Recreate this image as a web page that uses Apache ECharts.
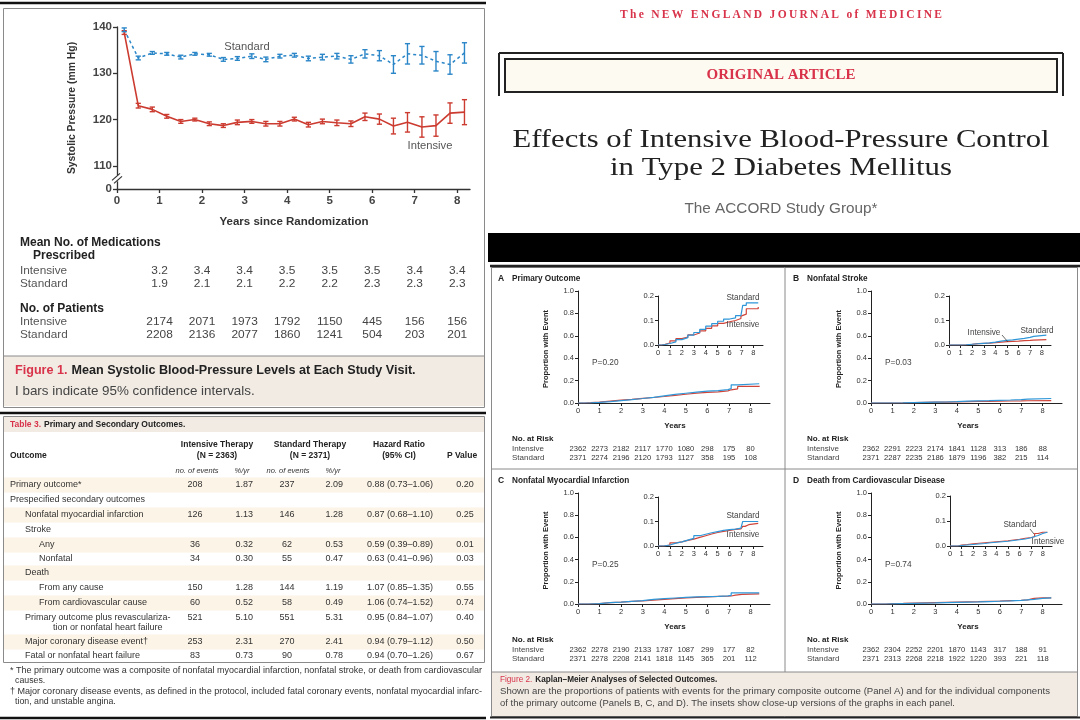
<!DOCTYPE html>
<html><head><meta charset="utf-8">
<script src="https://cdn.jsdelivr.net/npm/echarts@6/dist/echarts.min.js"></script>
<style>html,body{margin:0;padding:0;background:#fff}#c{width:1080px;height:720px}</style>
</head><body><div id="c"></div><script>
// ---------- Figure 1 data ----------
const visitYears = [0.17,0.5,0.83,1.17,1.5,1.83,2.17,2.5,2.83,3.17,3.5,3.83,4.17,4.5,4.83,5.17,5.5,5.83,6.17,6.5,6.83,7.17,7.5,7.83,8.17];
const standardSBP = [139.4,133.3,134.4,134.2,133.5,134.2,134.0,133.0,133.2,133.7,133.0,133.7,133.9,133.2,133.5,133.7,133.0,134.2,133.8,131.9,134.2,133.9,132.6,131.9,134.4];
const standardCI = [0.4,0.4,0.3,0.3,0.4,0.3,0.3,0.4,0.4,0.5,0.5,0.4,0.4,0.5,0.6,0.6,0.8,0.9,1.1,1.9,2.2,1.9,2.1,2.1,2.2];
const intensiveSBP = [138.8,123.0,122.2,120.7,119.6,120.0,119.1,118.7,119.4,119.6,119.1,119.1,120.1,118.9,119.6,119.3,119.1,120.6,120.1,118.6,119.4,118.4,118.7,121.4,121.6];
const intensiveCI = [0.4,0.5,0.5,0.4,0.4,0.3,0.4,0.4,0.5,0.4,0.5,0.5,0.4,0.5,0.5,0.6,0.6,0.8,1.1,1.7,2.1,2.2,2.3,2.2,2.7];
const fig1XTicks = [0,1,2,3,4,5,6,7,8];
const fig1YTicks = [105,110,120,130,140];
const tableYears = [1,2,3,4,5,6,7,8];
const medsIntensive = ['3.2','3.4','3.4','3.5','3.5','3.5','3.4','3.4'];
const medsStandard = ['1.9','2.1','2.1','2.2','2.2','2.3','2.3','2.3'];
const patientsIntensive = [2174,2071,1973,1792,1150,445,156,156];
const patientsStandard = [2208,2136,2077,1860,1241,504,203,201];

// ---------- Figure 2 data (Kaplan-Meier) ----------
const kmA_years = [0,0.3,0.6,1.0,1.5,2.0,2.5,3.0,3.5,4.0,4.5,5.0,5.5,6.0,6.5,6.95,7.1,7.4,8.4];
const kmA_standard = [0,0.002,0.006,0.013,0.022,0.030,0.040,0.051,0.064,0.077,0.087,0.097,0.106,0.111,0.120,0.128,0.162,0.172,0.172];
const kmA_intensive = [0,0.003,0.008,0.017,0.026,0.032,0.041,0.049,0.058,0.068,0.078,0.088,0.095,0.100,0.108,0.118,0.126,0.148,0.155];
const kmB_years = [0,1.0,1.5,2.0,2.5,3.0,3.5,4.0,4.5,5.0,5.5,6.0,6.5,7.0,7.3,8.4];
const kmB_standard = [0,0.001,0.003,0.005,0.007,0.009,0.012,0.016,0.019,0.021,0.024,0.027,0.031,0.035,0.040,0.040];
const kmB_intensive = [0,0.001,0.003,0.006,0.007,0.008,0.010,0.012,0.014,0.015,0.016,0.018,0.019,0.020,0.022,0.022];
const kmC_years = [0,0.5,1.0,1.5,2.0,2.5,3.0,3.5,4.0,4.5,5.0,5.5,6.0,6.5,6.95,7.1,7.3,7.6,8.4];
const kmC_standard = [0,0.004,0.012,0.017,0.024,0.031,0.042,0.048,0.054,0.059,0.064,0.067,0.069,0.073,0.077,0.100,0.100,0.100,0.100];
const kmC_intensive = [0,0.004,0.013,0.017,0.023,0.028,0.035,0.042,0.049,0.055,0.060,0.064,0.068,0.070,0.072,0.080,0.087,0.092,0.092];
const kmD_years = [0,0.7,1.0,1.5,2.0,2.5,3.0,3.5,4.0,4.5,5.0,5.5,6.0,6.5,7.0,7.3,7.6,8.0,8.4];
const kmD_standard = [0,0.002,0.004,0.006,0.008,0.010,0.013,0.015,0.017,0.019,0.022,0.025,0.028,0.033,0.038,0.042,0.050,0.055,0.057];
const kmD_intensive = [0,0.004,0.006,0.009,0.011,0.013,0.015,0.017,0.019,0.021,0.024,0.027,0.031,0.034,0.037,0.050,0.055,0.055,0.055];
const kmXTicks = [0,1,2,3,4,5,6,7,8];
const riskYears = [0,1,2,3,4,5,6,7,8];
const riskA_intensive = [2362,2273,2182,2117,1770,1080,298,175,80];
const riskA_standard = [2371,2274,2196,2120,1793,1127,358,195,108];
const riskB_intensive = [2362,2291,2223,2174,1841,1128,313,186,88];
const riskB_standard = [2371,2287,2235,2186,1879,1196,382,215,114];
const riskC_intensive = [2362,2278,2190,2133,1787,1087,299,177,82];
const riskC_standard = [2371,2278,2208,2141,1818,1145,365,201,112];
const riskD_intensive = [2362,2304,2252,2201,1870,1143,317,188,91];
const riskD_standard = [2371,2313,2268,2218,1922,1220,393,221,118];
const panelTitles = ['Primary Outcome','Nonfatal Stroke','Nonfatal Myocardial Infarction','Death from Cardiovascular Disease'];
const panelLetters = ['A','B','C','D'];
const panelP = ['P=0.20','P=0.03','P=0.25','P=0.74'];

// ---------- Table 3 data ----------
const outcomeNames = ['Primary outcome*','Prespecified secondary outcomes','Nonfatal myocardial infarction','Stroke','Any','Nonfatal','Death','From any cause','From cardiovascular cause','Primary outcome plus revasculariza-','Major coronary disease event\u2020','Fatal or nonfatal heart failure'];
const outcomeLevel = [0,0,1,1,2,2,1,2,2,1,1,1];
const intEvents = ['208','','126','','36','34','','150','60','521','253','83'];
const intRate = ['1.87','','1.13','','0.32','0.30','','1.28','0.52','5.10','2.31','0.73'];
const stdEvents = ['237','','146','','62','55','','144','58','551','270','90'];
const stdRate = ['2.09','','1.28','','0.53','0.47','','1.19','0.49','5.31','2.41','0.78'];
const hazardRatio = ['0.88 (0.73\u20131.06)','','0.87 (0.68\u20131.10)','','0.59 (0.39\u20130.89)','0.63 (0.41\u20130.96)','','1.07 (0.85\u20131.35)','1.06 (0.74\u20131.52)','0.95 (0.84\u20131.07)','0.94 (0.79\u20131.12)','0.94 (0.70\u20131.26)'];
const pValue = ['0.20','','0.25','','0.01','0.03','','0.55','0.74','0.40','0.50','0.67'];

// ---------- styling ----------
const SANS = '"Liberation Sans", "DejaVu Sans", sans-serif';
const SERIF = '"Liberation Serif", "DejaVu Serif", serif';
const RED = '#cc3b30', BLUE = '#2b86c8', KMRED = '#d0453a', KMBLUE = '#2f97d8';
const NEJMRED = '#d8334a', BEIGE = '#f1ebe4', GREY = '#555';

const chart = echarts.init(document.getElementById('c'), null, {renderer: 'canvas'});

const grids = [
  {left:117, top:27, width:353, height:162},
  {left:578, top:291, width:192, height:112},
  {left:658, top:296, width:105, height:49},
  {left:871, top:291, width:191, height:112},
  {left:949, top:296, width:102, height:49},
  {left:578, top:493, width:192, height:111},
  {left:658, top:497, width:105, height:49},
  {left:871, top:493, width:191, height:111},
  {left:950, top:496, width:102, height:50}
];

const xAxes = [], yAxes = [];
xAxes.push({type:'value', gridIndex:0, min:0, max:8.3,
  axisLine:{show:true, onZero:false, lineStyle:{color:'#333', width:1.3}},
  axisTick:{show:true, length:4, customValues:fig1XTicks, lineStyle:{color:'#333', width:1.3}},
  axisLabel:{customValues:fig1XTicks, fontSize:11.5, fontWeight:'bold', color:'#444', fontFamily:SANS, margin:6},
  splitLine:{show:false}});
yAxes.push({type:'value', gridIndex:0, min:105, max:140,
  axisLine:{show:true, lineStyle:{color:'#333', width:1.3}},
  axisTick:{show:true, length:4, customValues:fig1YTicks, lineStyle:{color:'#333', width:1.3}},
  axisLabel:{customValues:fig1YTicks, formatter:v => v === 105 ? '0' : String(v), fontSize:11.5, fontWeight:'bold', color:'#444', fontFamily:SANS, margin:5},
  splitLine:{show:false}});
for (let g = 1; g <= 8; g++) {
  const inset = g % 2 === 0;
  xAxes.push({type:'value', gridIndex:g, min:0, max:inset ? 8.8 : 8.9,
    axisLine:{show:true, onZero:false, lineStyle:{color:'#222', width:1}},
    axisTick:{show:true, length:3, customValues:kmXTicks, lineStyle:{color:'#222'}},
    axisLabel:{customValues:kmXTicks, fontSize:7.5, color:'#333', fontFamily:SANS, margin:4},
    splitLine:{show:false}});
  yAxes.push({type:'value', gridIndex:g, min:0, max:inset ? 0.2 : 1.0, interval:inset ? 0.1 : 0.2,
    axisLine:{show:true, lineStyle:{color:'#222', width:1}},
    axisTick:{show:true, length:3, lineStyle:{color:'#222'}},
    axisLabel:{formatter:v => v.toFixed(1), fontSize:7.5, color:'#333', fontFamily:SANS, margin:4},
    splitLine:{show:false}});
}

function zip(xs, ys) { return xs.map((x, i) => [x, ys[i]]); }
function errBars(ys, cis) { return visitYears.map((x, i) => [x, ys[i], cis[i]]); }
function errRender(color) {
  return function (params, api) {
    const x = api.value(0), y = api.value(1), ci = api.value(2);
    const t = api.coord([x, y + ci]), b = api.coord([x, y - ci]);
    const c = 2.6, st = {stroke: color, lineWidth: 1.4};
    return {type:'group', children:[
      {type:'line', shape:{x1:t[0], y1:t[1], x2:b[0], y2:b[1]}, style:st},
      {type:'line', shape:{x1:t[0]-c, y1:t[1], x2:t[0]+c, y2:t[1]}, style:st},
      {type:'line', shape:{x1:b[0]-c, y1:b[1], x2:b[0]+c, y2:b[1]}, style:st}
    ]};
  };
}

const series = [
  {type:'line', xAxisIndex:0, yAxisIndex:0, data:zip(visitYears, intensiveSBP), symbol:'none', lineStyle:{color:RED, width:1.6}, z:3},
  {type:'custom', xAxisIndex:0, yAxisIndex:0, data:errBars(intensiveSBP, intensiveCI), renderItem:errRender(RED), encode:{x:0, y:1}, z:4},
  {type:'line', xAxisIndex:0, yAxisIndex:0, data:zip(visitYears, standardSBP), symbol:'none', lineStyle:{color:BLUE, width:1.5, type:[3,3]}, z:3},
  {type:'custom', xAxisIndex:0, yAxisIndex:0, data:errBars(standardSBP, standardCI), renderItem:errRender(BLUE), encode:{x:0, y:1}, z:4}
];
const kmSets = [
  [kmA_years, kmA_intensive, kmA_standard],
  [kmB_years, kmB_intensive, kmB_standard],
  [kmC_years, kmC_intensive, kmC_standard],
  [kmD_years, kmD_intensive, kmD_standard]
];
kmSets.forEach((s, p) => {
  [1 + 2*p, 2 + 2*p].forEach(g => {
    series.push({type:'line', step:'end', xAxisIndex:g, yAxisIndex:g, data:zip(s[0], s[1]), symbol:'none', lineStyle:{color:KMRED, width:1.2}, z:3});
    series.push({type:'line', step:'end', xAxisIndex:g, yAxisIndex:g, data:zip(s[0], s[2]), symbol:'none', lineStyle:{color:KMBLUE, width:1.2}, z:4});
  });
});

chart.setOption({animation:false, backgroundColor:'#fff', grid:grids, xAxis:xAxes, yAxis:yAxes, series:series});

// ---------- decorations & text ----------
const mctx = document.createElement('canvas').getContext('2d');
function tw(text, font) { mctx.font = font; return mctx.measureText(text).width; }
function fnt(o) { return (o.italic ? 'italic ' : '') + (o.bold ? 'bold ' : '') + (o.size || 8) + 'px ' + (o.family || SANS); }
const G = [];
function R(x, y, w, h, fill, stroke, lw, z) {
  G.push({type:'rect', silent:true, z: z == null ? 1 : z, shape:{x, y, width:w, height:h}, style:{fill: fill || 'none', stroke: stroke || 'none', lineWidth: lw || 1}});
}
function L(x1, y1, x2, y2, stroke, lw, z) {
  G.push({type:'line', silent:true, z: z == null ? 5 : z, shape:{x1, y1, x2, y2}, style:{stroke: stroke || '#333', lineWidth: lw || 1}});
}
function T(text, x, y, o) {
  o = o || {};
  const al = o.align || 'left';
  let sx = o.sx || 1;
  if (o.fitWidth) sx = o.fitWidth / tw(text, fnt(o));
  G.push({type:'text', silent:true, z:20, x, y, rotation: o.rotation || 0, scaleX: sx, scaleY: 1,
    style:{text, fill: o.color || '#333', font: fnt(o), align: al, textAlign: al, verticalAlign:'middle', textVerticalAlign:'middle'}});
  return tw(text, fnt(o)) * sx;
}
function spaced(s) { return s.split('').join('\u2009'); }

// ---- right top: journal header ----
T(spaced('The NEW ENGLAND JOURNAL of MEDICINE'), 781, 15, {size:11.5, bold:true, family:SERIF, color:NEJMRED, align:'center'});
L(499, 96, 499, 53, '#222', 2); L(499, 53, 1063, 53, '#222', 2); L(1063, 53, 1063, 96, '#222', 2);
R(505, 59, 552, 33, '#fdfaf2', '#222', 2);
T('ORIGINAL ARTICLE', 781, 75, {size:15, bold:true, family:SERIF, color:NEJMRED, align:'center'});
T('Effects of Intensive Blood-Pressure Control', 781, 140, {size:26, family:SERIF, color:'#222', align:'center', fitWidth:537});
T('in Type 2 Diabetes Mellitus', 781, 168, {size:26, family:SERIF, color:'#222', align:'center', fitWidth:342});
T('The ACCORD Study Group*', 781, 209, {size:15.3, family:SANS, color:'#666', align:'center'});
R(488, 233, 592, 29, '#000', null, 1, 2);

// ---- Figure 1 frame ----
L(0, 3, 486, 3, '#111', 2.5);
R(3.5, 8.5, 481, 399, null, '#8a8a8a', 1);
R(4, 356, 480, 50, BEIGE, null, 1, 0);
L(4, 356, 484, 356, '#8a8a8a', 1);
T('Systolic Pressure (mm Hg)', 72, 108, {size:10.4, bold:true, color:'#333', align:'center', rotation:Math.PI/2});
T('Years since Randomization', 294, 222, {size:11.5, bold:true, color:'#333', align:'center'});
T('Standard', 247, 47, {size:11.2, color:GREY, align:'center'});
T('Intensive', 430, 146, {size:11.2, color:GREY, align:'center'});
// axis break mark
{
  const p = chart.convertToPixel({gridIndex:0}, [0, 107.3]);
  R(p[0]-3, p[1]-3, 6, 6, '#fff', null, 1, 6);
  L(p[0]-5, p[1]+2, p[0]+3, p[1]-5, '#333', 1.2, 7);
  L(p[0]-3, p[1]+5, p[0]+5, p[1]-2, '#333', 1.2, 7);
}
T('Mean No. of Medications', 20, 243, {size:12, bold:true, color:'#222'});
T('Prescribed', 33, 256, {size:12, bold:true, color:'#222'});
T('Intensive', 20, 271, {size:11, color:GREY, sx:1.07});
T('Standard', 20, 283.5, {size:11, color:GREY, sx:1.07});
T('No. of Patients', 20, 309, {size:12, bold:true, color:'#222'});
T('Intensive', 20, 322, {size:11, color:GREY, sx:1.07});
T('Standard', 20, 335, {size:11, color:GREY, sx:1.07});
tableYears.forEach((yr, i) => {
  const px = chart.convertToPixel({gridIndex:0}, [yr, 120])[0];
  T(medsIntensive[i], px, 271, {size:11, color:'#444', align:'center', sx:1.08});
  T(medsStandard[i], px, 283.5, {size:11, color:'#444', align:'center', sx:1.08});
  T(String(patientsIntensive[i]), px, 322, {size:11, color:'#444', align:'center', sx:1.08});
  T(String(patientsStandard[i]), px, 335, {size:11, color:'#444', align:'center', sx:1.08});
});
{
  const w = T('Figure 1.', 15, 371, {size:12.6, bold:true, color:NEJMRED});
  T('Mean Systolic Blood-Pressure Levels at Each Study Visit.', 15 + w + 4, 371, {size:12.6, bold:true, color:'#222'});
  T('I bars indicate 95% confidence intervals.', 15, 391, {size:13.4, color:'#444'});
}

// ---- Table 3 ----
L(0, 413, 486, 413, '#111', 2.5);
R(3.5, 416.5, 481, 246, null, '#8a8a8a', 1);
R(4, 417, 480, 15, BEIGE, null, 1, 0);
{
  const w = T('Table 3.', 10, 425, {size:8.5, bold:true, color:NEJMRED});
  T('Primary and Secondary Outcomes.', 10 + w + 3, 425, {size:8.5, bold:true, color:'#222'});
}
T('Outcome', 10, 456, {size:8.5, bold:true, color:'#222'});
T('Intensive Therapy', 217, 445, {size:8.5, bold:true, color:'#222', align:'center'});
T('(N = 2363)', 217, 456, {size:8.5, bold:true, color:'#222', align:'center'});
T('Standard Therapy', 310, 445, {size:8.5, bold:true, color:'#222', align:'center'});
T('(N = 2371)', 310, 456, {size:8.5, bold:true, color:'#222', align:'center'});
T('Hazard Ratio', 399, 445, {size:8.5, bold:true, color:'#222', align:'center'});
T('(95% CI)', 399, 456, {size:8.5, bold:true, color:'#222', align:'center'});
T('P Value', 462, 456, {size:8.5, bold:true, color:'#222', align:'center'});
T('no. of events', 197, 471, {size:7.5, italic:true, color:'#333', align:'center'});
T('%/yr', 242, 471, {size:7.5, italic:true, color:'#333', align:'center'});
T('no. of events', 288, 471, {size:7.5, italic:true, color:'#333', align:'center'});
T('%/yr', 333, 471, {size:7.5, italic:true, color:'#333', align:'center'});
const rowY = [485,500,515,530,545,559,573,588,603,618,642,656];
const indentX = [10, 25, 39];
rowY.forEach((y, i) => {
  if (i % 2 === 0) R(4, y - 7.5, 480, 15, '#fcf4e6', null, 1, 0);
  T(outcomeNames[i], indentX[outcomeLevel[i]], y, {size:9, color:'#333'});
  T(intEvents[i], 195, y, {size:9, color:'#333', align:'center'});
  T(intRate[i], 253, y, {size:9, color:'#333', align:'right'});
  T(stdEvents[i], 287, y, {size:9, color:'#333', align:'center'});
  T(stdRate[i], 343, y, {size:9, color:'#333', align:'right'});
  T(hazardRatio[i], 400, y, {size:9, color:'#333', align:'center'});
  T(pValue[i], 465, y, {size:9, color:'#333', align:'center'});
});
T('tion or nonfatal heart failure', 53, 628, {size:9, color:'#333'});
T('* The primary outcome was a composite of nonfatal myocardial infarction, nonfatal stroke, or death from cardiovascular', 10, 671, {size:8.4, color:'#333', fitWidth:472});
T('causes.', 15, 681, {size:8.4, color:'#333', sx:1.05});
T('\u2020 Major coronary disease events, as defined in the protocol, included fatal coronary events, nonfatal myocardial infarc-', 10, 692, {size:8.4, color:'#333', fitWidth:472});
T('tion, and unstable angina.', 15, 702, {size:8.4, color:'#333', sx:1.05});
L(0, 718, 486, 718, '#111', 2.5);

// ---- Figure 2 frame ----
L(490, 266, 1080, 266, '#222', 2.5);
R(491.5, 267.5, 586, 449, null, '#8a8a8a', 1);
L(785, 268, 785, 672, '#8a8a8a', 1);
L(492, 469, 1078, 469, '#8a8a8a', 1);
R(492, 672, 586, 44, BEIGE, null, 1, 0);
L(492, 672, 1078, 672, '#8a8a8a', 1);
L(490, 717.5, 1080, 717.5, '#222', 2);
{
  const w = T('Figure 2.', 500, 680, {size:8.2, color:NEJMRED});
  T('Kaplan\u2013Meier Analyses of Selected Outcomes.', 500 + w + 3, 680, {size:8.2, bold:true, color:'#222'});
  T('Shown are the proportions of patients with events for the primary composite outcome (Panel A) and for the individual components', 500, 692, {size:9, color:'#444', fitWidth:550});
  T('of the primary outcome (Panels B, C, and D). The insets show close-up versions of the graphs in each panel.', 500, 704, {size:9, color:'#444', sx:1.05});
}
const panelOrigin = [[490, 265], [785, 265], [490, 467], [785, 467]];
const riskSets = [
  [riskA_intensive, riskA_standard], [riskB_intensive, riskB_standard],
  [riskC_intensive, riskC_standard], [riskD_intensive, riskD_standard]
];
panelOrigin.forEach((o, p) => {
  const ox = o[0], oy = o[1];
  const gm = 1 + 2*p;
  const top = grids[gm].top, bottom = grids[gm].top + grids[gm].height;
  T(panelLetters[p], ox + 8, oy + 14, {size:8.5, bold:true, color:'#222'});
  T(panelTitles[p], ox + 22, oy + 14, {size:8.2, bold:true, color:'#222'});
  T('Proportion with Event', grids[gm].left - 32, (top + bottom) / 2 + 2, {size:7.5, bold:true, color:'#222', align:'center', rotation:Math.PI/2});
  T('Years', grids[gm].left + 97, bottom + 23, {size:8, bold:true, color:'#222', align:'center'});
  T(panelP[p], grids[gm].left + 14, top + 72, {size:8.3, color:'#444'});
  const ry = bottom + 36;
  T('No. at Risk', ox + 22, ry, {size:8, bold:true, color:'#222'});
  T('Intensive', ox + 22, ry + 10, {size:8, color:'#444'});
  T('Standard', ox + 22, ry + 19, {size:8, color:'#444'});
  riskYears.forEach((yr, i) => {
    const px = chart.convertToPixel({gridIndex:gm}, [yr, 0])[0];
    T(String(riskSets[p][0][i]), px, ry + 10, {size:7.6, color:'#333', align:'center'});
    T(String(riskSets[p][1][i]), px, ry + 19, {size:7.6, color:'#333', align:'center'});
  });
});
// inset annotations
T('Standard', 743, 298, {size:8.2, color:'#444', align:'center'});
T('Intensive', 743, 325, {size:8.2, color:'#444', align:'center'});
T('Intensive', 984, 333, {size:8.2, color:'#444', align:'center'});
T('Standard', 1037, 331, {size:8.2, color:'#444', align:'center'});
L(1002, 335, 1008, 342, '#444', 0.8);
T('Standard', 743, 516, {size:8.2, color:'#444', align:'center'});
T('Intensive', 743, 535, {size:8.2, color:'#444', align:'center'});
T('Standard', 1020, 525, {size:8.2, color:'#444', align:'center'});
T('Intensive', 1048, 542, {size:8.2, color:'#444', align:'center'});
L(1030, 529, 1034, 534, '#444', 0.8);

chart.setOption({graphic:{elements:G}});
</script></body></html>
